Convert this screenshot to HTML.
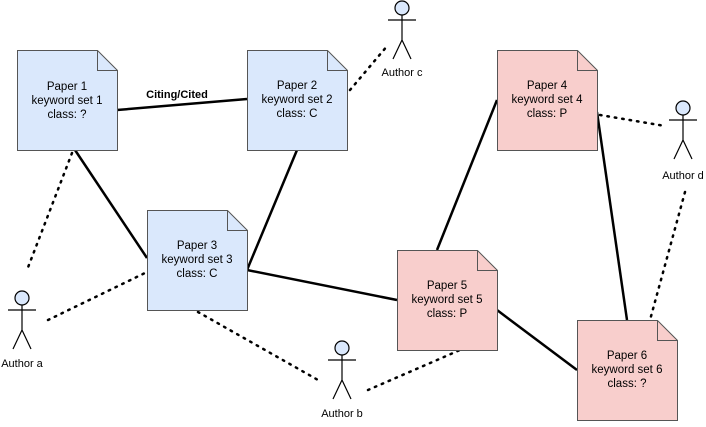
<!DOCTYPE html><html><head><style>body{margin:0;background:#fff}svg text{font-family:"Liberation Sans",sans-serif}</style></head><body>
<svg width="706" height="422" xmlns="http://www.w3.org/2000/svg">
<g stroke="#000" stroke-width="2.5" fill="none">
<line x1="117" y1="110" x2="247" y2="99"/>
<line x1="75" y1="150" x2="147" y2="258"/>
<line x1="297" y1="150" x2="247" y2="270"/>
<line x1="247" y1="270" x2="397" y2="300"/>
<line x1="497" y1="100" x2="437" y2="250"/>
<line x1="597" y1="112" x2="627" y2="320"/>
<line x1="497" y1="310" x2="577" y2="370"/>
</g>
<g stroke="#000" stroke-width="2.5" fill="none" stroke-dasharray="1.5 6" stroke-linecap="round">
<line x1="72" y1="153" x2="27" y2="270"/>
<line x1="48" y1="320" x2="147" y2="272"/>
<line x1="198" y1="312" x2="318" y2="380"/>
<line x1="368" y1="390" x2="460" y2="350"/>
<line x1="350" y1="90" x2="388" y2="45"/>
<line x1="600" y1="115" x2="665" y2="126"/>
<line x1="685" y1="192" x2="650" y2="320"/>
</g>
<g stroke="#555" stroke-width="1">
<path d="M17.5 50.5h80l20 20v80h-100z" fill="#dae8fc"/><path d="M97.5 50.5v20h20" fill="none"/>
<path d="M247.5 50.5h80l20 20v80h-100z" fill="#dae8fc"/><path d="M327.5 50.5v20h20" fill="none"/>
<path d="M147.5 210.5h80l20 20v80h-100z" fill="#dae8fc"/><path d="M227.5 210.5v20h20" fill="none"/>
<path d="M497.5 50.5h80l20 20v80h-100z" fill="#f8cecc"/><path d="M577.5 50.5v20h20" fill="none"/>
<path d="M397.5 250.5h80l20 20v80h-100z" fill="#f8cecc"/><path d="M477.5 250.5v20h20" fill="none"/>
<path d="M577.5 320.5h80l20 20v80h-100z" fill="#f8cecc"/><path d="M657.5 320.5v20h20" fill="none"/>
</g>
<g font-size="11.5" text-anchor="middle" fill="#000">
<text x="67" y="90">Paper 1</text><text x="67" y="104">keyword set 1</text><text x="67" y="118">class: ?</text>
<text x="297" y="89">Paper 2</text><text x="297" y="103">keyword set 2</text><text x="297" y="117">class: C</text>
<text x="197" y="249">Paper 3</text><text x="197" y="263">keyword set 3</text><text x="197" y="277">class: C</text>
<text x="547" y="89">Paper 4</text><text x="547" y="103">keyword set 4</text><text x="547" y="117">class: P</text>
<text x="447" y="289">Paper 5</text><text x="447" y="303">keyword set 5</text><text x="447" y="317">class: P</text>
<text x="627" y="359">Paper 6</text><text x="627" y="373">keyword set 6</text><text x="627" y="387">class: ?</text>
<text x="177" y="98" font-weight="bold" font-size="11">Citing/Cited</text>
</g>
<g stroke="#000" stroke-width="1.2" fill="none">
<g transform="translate(402,0)"><circle cx="0" cy="8" r="7" fill="#dae8fc"/><path d="M0 15v25M-14 20h28M0 40l-9 19M0 40l9 19"/></g>
<g transform="translate(22,290)"><circle cx="0" cy="8" r="7" fill="#dae8fc"/><path d="M0 15v25M-14 20h28M0 40l-9 19M0 40l9 19"/></g>
<g transform="translate(342,340)"><circle cx="0" cy="8" r="7" fill="#dae8fc"/><path d="M0 15v25M-14 20h28M0 40l-9 19M0 40l9 19"/></g>
<g transform="translate(683,100)"><circle cx="0" cy="8" r="7" fill="#dae8fc"/><path d="M0 15v25M-14 20h28M0 40l-9 19M0 40l9 19"/></g>
</g>
<g font-size="11" text-anchor="middle" fill="#000">
<text x="402" y="76">Author c</text>
<text x="22" y="367">Author a</text>
<text x="342" y="417">Author b</text>
<text x="683" y="179">Author d</text>
</g>
</svg></body></html>
